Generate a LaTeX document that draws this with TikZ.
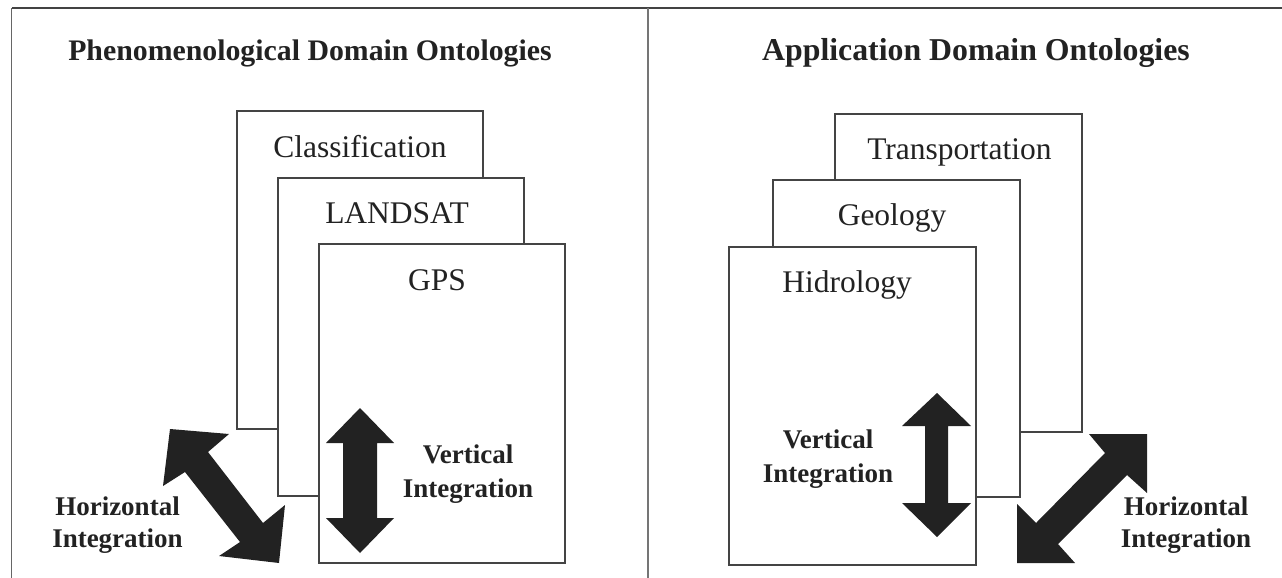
\documentclass[tikz,border=0pt]{standalone}
\usepackage{fontspec}
\setmainfont{Liberation Serif}
\definecolor{ink}{HTML}{222222}
\definecolor{edge}{HTML}{444444}
\definecolor{frameline}{HTML}{666666}
\begin{document}
\begin{tikzpicture}[x=1pt,y=-1pt,
  box/.style={draw=edge, line width=1.3pt, fill=white, inner sep=0pt, outer sep=0pt,
    minimum width=246pt, minimum height=318pt, anchor=north west},
  boxlabel/.style={anchor=base, inner sep=0pt, font=\fontsize{31.5}{36}\selectfont, text=ink},
  sidelabel/.style={anchor=base, inner sep=0pt, font=\bfseries\fontsize{27}{33}\selectfont, text=ink},
  bigarrow/.style={fill=ink, draw=none},
  frame/.style={draw=frameline, line width=1.6pt}
]
\useasboundingbox (0,0) rectangle (1282,578);
% frame
\coordinate (ftr) at (1282,8);
\coordinate (ftl) at (11.5,8);
\coordinate (fbl) at (11.5,578);
\coordinate (dtop) at (648,8);
\coordinate (dbot) at (648,578);
\draw[frame, draw=ink!85] (ftr) -- (ftl);
\draw[frame] (ftl) -- (fbl);
\draw[frame, line width=2.2pt, draw=frameline!90] (dtop) -- (dbot);

% titles
\node[anchor=base, inner sep=0pt, font=\bfseries\fontsize{29.8}{34}\selectfont, text=ink] (t1) at (310,61) {Phenomenological Domain Ontologies};
\node[anchor=base, inner sep=0pt, font=\bfseries\fontsize{31.8}{36}\selectfont, text=ink] (t2) at (976,61) {Application Domain Ontologies};

% left stack
\node[box] (cls) at (237,111) {};
\node[boxlabel] (clsT) at (360,157) {Classification};
\node[box] (lsat) at (278,178) {};
\node[boxlabel] (lsatT) at (397,223) {LANDSAT};
\node[box, minimum height=319pt] (gps) at (319,244) {};
\node[boxlabel] (gpsT) at (437,290) {GPS};

% right stack
\node[box, minimum width=247pt] (trn) at (835,114) {};
\node[boxlabel] (trnT) at (959.5,159) {Transportation};
\node[box, minimum width=247pt, minimum height=317pt] (geo) at (773,180) {};
\node[boxlabel] (geoT) at (892,225) {Geology};
\node[box, minimum width=247pt] (hid) at (729,247) {};
\node[boxlabel] (hidT) at (847,292) {Hidrology};

% left arrows
\fill[bigarrow] (360,408) -- (394,443) -- (377,443) -- (377,518) -- (394,518) -- (360,553)
  -- (326,518) -- (343,518) -- (343,443) -- (326,443) -- cycle;
\fill[bigarrow] (170,429) -- (229,434) -- (208,452) -- (263,523) -- (285,505) -- (279,563)
  -- (219,556) -- (240,542) -- (185,472) -- (163,486) -- cycle;

% right arrows
\fill[bigarrow] (937,393) -- (971,426) -- (948,426) -- (948,503) -- (971,503) -- (937,537)
  -- (902,503) -- (925,503) -- (925,426) -- (902,426) -- cycle;
\fill[bigarrow] (1147,434) -- (1147,493) -- (1127,475) -- (1058,544) -- (1075,563) -- (1017,563)
  -- (1017,504) -- (1036,523) -- (1105,453) -- (1089,434) -- cycle;

% side labels
\node[sidelabel] (vl1) at (468,463) {Vertical};
\node[sidelabel] (vl2) at (468,497) {Integration};
\node[sidelabel] (hl1) at (117.5,515) {Horizontal};
\node[sidelabel] (hl2) at (117.5,547) {Integration};
\node[sidelabel] (vr1) at (828,448) {Vertical};
\node[sidelabel] (vr2) at (828,482) {Integration};
\node[sidelabel] (hr1) at (1186,515) {Horizontal};
\node[sidelabel] (hr2) at (1186,547) {Integration};
\end{tikzpicture}
\end{document}
